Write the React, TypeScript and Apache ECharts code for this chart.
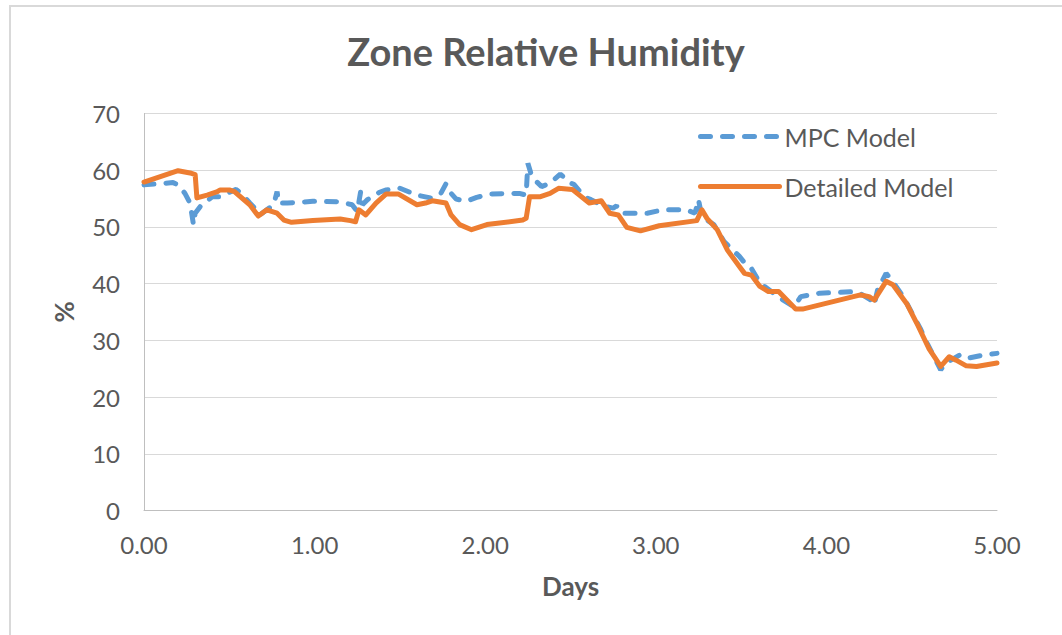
import React, { useEffect, useRef } from "react";
import * as echarts from "echarts";

const xTickLabels = ["0.00", "1.00", "2.00", "3.00", "4.00", "5.00"];
const yTicks = [0, 10, 20, 30, 40, 50, 60, 70];

const mpcDays = [
  0.0, 0.17, 0.2, 0.24, 0.27, 0.29, 0.3, 0.33, 0.4, 0.44, 0.54, 0.57, 0.62, 0.65, 0.68, 0.72, 0.76, 0.78, 0.79, 0.84,
  0.99, 1.15, 1.22, 1.25, 1.27, 1.28, 1.31, 1.38, 1.42, 1.5, 1.6, 1.68, 1.74, 1.77, 1.8, 1.83, 1.89, 1.95, 2.03, 2.2,
  2.24, 2.25, 2.27, 2.3, 2.33, 2.38, 2.44, 2.5, 2.52, 2.58, 2.62, 2.69, 2.75, 2.77, 2.8, 2.83, 2.95, 3.04, 3.18, 3.23,
  3.25, 3.27, 3.34, 3.4, 3.49, 3.53, 3.56, 3.61, 3.69, 3.73, 3.81, 3.85, 3.96, 4.18, 4.26, 4.28, 4.3, 4.35, 4.38, 4.45,
  4.55, 4.59, 4.67, 4.7, 4.78, 4.82, 4.92, 5.0,
];
const mpcValues = [
  57.4, 57.8, 57.4, 55.9, 54.2, 50.4, 52.4, 53.6, 55.3, 55.3, 56.6, 55.9, 54.2, 53.3, 52.1, 53.0, 53.9, 56.2, 54.2, 54.2,
  54.5, 54.4, 53.9, 52.7, 56.2, 53.9, 54.8, 56.1, 56.5, 56.8, 55.6, 55.1, 55.9, 57.6, 55.9, 54.9, 54.5, 55.2, 55.8, 55.9,
  55.6, 61.2, 59.2, 58.0, 57.1, 57.7, 59.3, 57.7, 57.5, 55.3, 54.8, 53.7, 53.3, 53.7, 52.4, 52.4, 52.4, 53.0, 53.0, 52.4,
  54.8, 51.8, 50.4, 47.4, 44.8, 43.3, 42.7, 40.1, 38.3, 37.4, 35.9, 37.7, 38.3, 38.6, 37.1, 36.2, 38.9, 41.8, 40.7, 37.7,
  32.1, 29.5, 24.8, 26.0, 27.4, 26.8, 27.4, 27.7,
];

const detailedDays = [
  0.0, 0.2, 0.27, 0.3, 0.31, 0.37, 0.43, 0.445, 0.5, 0.53, 0.62, 0.67, 0.72, 0.78, 0.82, 0.865, 0.99, 1.15, 1.21, 1.24,
  1.26, 1.3, 1.36, 1.42, 1.49, 1.6, 1.65, 1.69, 1.77, 1.8, 1.85, 1.92, 2.01, 2.22, 2.24, 2.26, 2.32, 2.38, 2.43, 2.51,
  2.61, 2.68, 2.73, 2.78, 2.83, 2.91, 3.02, 3.24, 3.27, 3.3, 3.36, 3.42, 3.49, 3.52, 3.56, 3.61, 3.66, 3.72, 3.82, 3.86,
  4.2, 4.25, 4.28, 4.35, 4.39, 4.47, 4.53, 4.6, 4.67, 4.72, 4.76, 4.82, 4.88, 5.0,
];
const detailedValues = [
  57.9, 59.9, 59.5, 59.2, 55.1, 55.6, 56.2, 56.5, 56.5, 56.2, 53.9, 51.9, 53.0, 52.4, 51.2, 50.8, 51.1, 51.4, 51.1, 50.9,
  53.0, 52.1, 54.2, 55.8, 55.8, 53.9, 54.2, 54.6, 54.2, 52.1, 50.4, 49.5, 50.4, 51.2, 51.5, 55.3, 55.3, 55.9, 56.8, 56.6,
  54.2, 54.6, 52.4, 52.1, 49.9, 49.3, 50.2, 51.1, 53.0, 51.5, 49.5, 45.9, 43.0, 41.8, 41.5, 39.5, 38.6, 38.6, 35.5, 35.5,
  38.0, 37.7, 37.1, 40.4, 39.8, 36.5, 33.0, 28.6, 25.4, 27.1, 26.5, 25.5, 25.4, 26.0,
];

const FONT = "Lato, 'Open Sans', sans-serif";
const TEXT = "#595959";

export default function App() {
  const ref = useRef<HTMLDivElement>(null);

  useEffect(() => {
    document.body.style.margin = "0";
    if (!ref.current) return;
    const chart = echarts.init(ref.current, null, { renderer: "svg" });
    const mpc = mpcDays.map((d, i) => [d, mpcValues[i]]);
    const det = detailedDays.map((d, i) => [d, detailedValues[i]]);
    chart.setOption({
      animation: false,
      backgroundColor: "#ffffff",
      title: {
        text: "Zone Relative Humidity",
        left: 541,
        textAlign: "center",
        top: 27,
        textStyle: { fontFamily: FONT, fontSize: 38, fontWeight: "bold", color: TEXT },
      },
      graphic: [
        {
          type: "rect",
          shape: { x: 10, y: 6, width: 1070, height: 650 },
          style: { fill: "none", stroke: "#d9d9d9", lineWidth: 2 },
          silent: true,
        },
      ],
      legend: {
        orient: "vertical",
        left: 693,
        top: 119,
        itemWidth: 79,
        itemHeight: 26,
        itemGap: 25,
        itemStyle: { color: "transparent", borderWidth: 0, opacity: 0 },
        lineStyle: { width: 5 },
        textStyle: { fontFamily: FONT, fontSize: 25, color: TEXT },
        data: ["MPC Model", "Detailed Model"],
      },
      grid: { left: 144, right: 65, top: 113.4, bottom: 124.5, containLabel: false },
      xAxis: {
        type: "value",
        min: 0,
        max: 5,
        interval: 1,
        name: "Days",
        nameLocation: "middle",
        nameGap: 62,
        nameTextStyle: { fontFamily: FONT, fontSize: 26, fontWeight: "bold", color: TEXT },
        axisLine: { show: true, lineStyle: { color: "#bfbfbf", width: 1 } },
        axisTick: { show: false },
        splitLine: { show: false },
        axisLabel: {
          fontFamily: FONT,
          fontSize: 24,
          color: TEXT,
          margin: 22,
          formatter: (v: number) => xTickLabels[Math.round(v)] ?? v.toFixed(2),
        },
      },
      yAxis: {
        type: "value",
        min: yTicks[0],
        max: yTicks[yTicks.length - 1],
        interval: 10,
        name: "%",
        nameLocation: "middle",
        nameGap: 67,
        nameRotate: 90,
        nameTextStyle: { fontFamily: FONT, fontSize: 26, fontWeight: "bold", color: TEXT },
        axisLine: { show: true, lineStyle: { color: "#bfbfbf", width: 1 } },
        axisTick: { show: false },
        splitLine: { show: true, lineStyle: { color: "#d9d9d9", width: 1 } },
        axisLabel: { fontFamily: FONT, fontSize: 24, color: TEXT, margin: 24 },
      },
      series: [
        {
          name: "MPC Model",
          type: "line",
          data: mpc,
          showSymbol: false,
          symbol: "none",
          color: "#5b9bd5",
          lineStyle: { color: "#5b9bd5", width: 5, type: [10, 12], cap: "round" },
          z: 2,
        },
        {
          name: "Detailed Model",
          type: "line",
          data: det,
          showSymbol: false,
          symbol: "none",
          color: "#ed7d31",
          lineStyle: { color: "#ed7d31", width: 5, cap: "round", join: "round" },
          z: 3,
        },
      ],
    });
    return () => chart.dispose();
  }, []);

  return <div ref={ref} style={{ position: "absolute", left: 0, top: 0, width: 1062, height: 635 }} />;
}
